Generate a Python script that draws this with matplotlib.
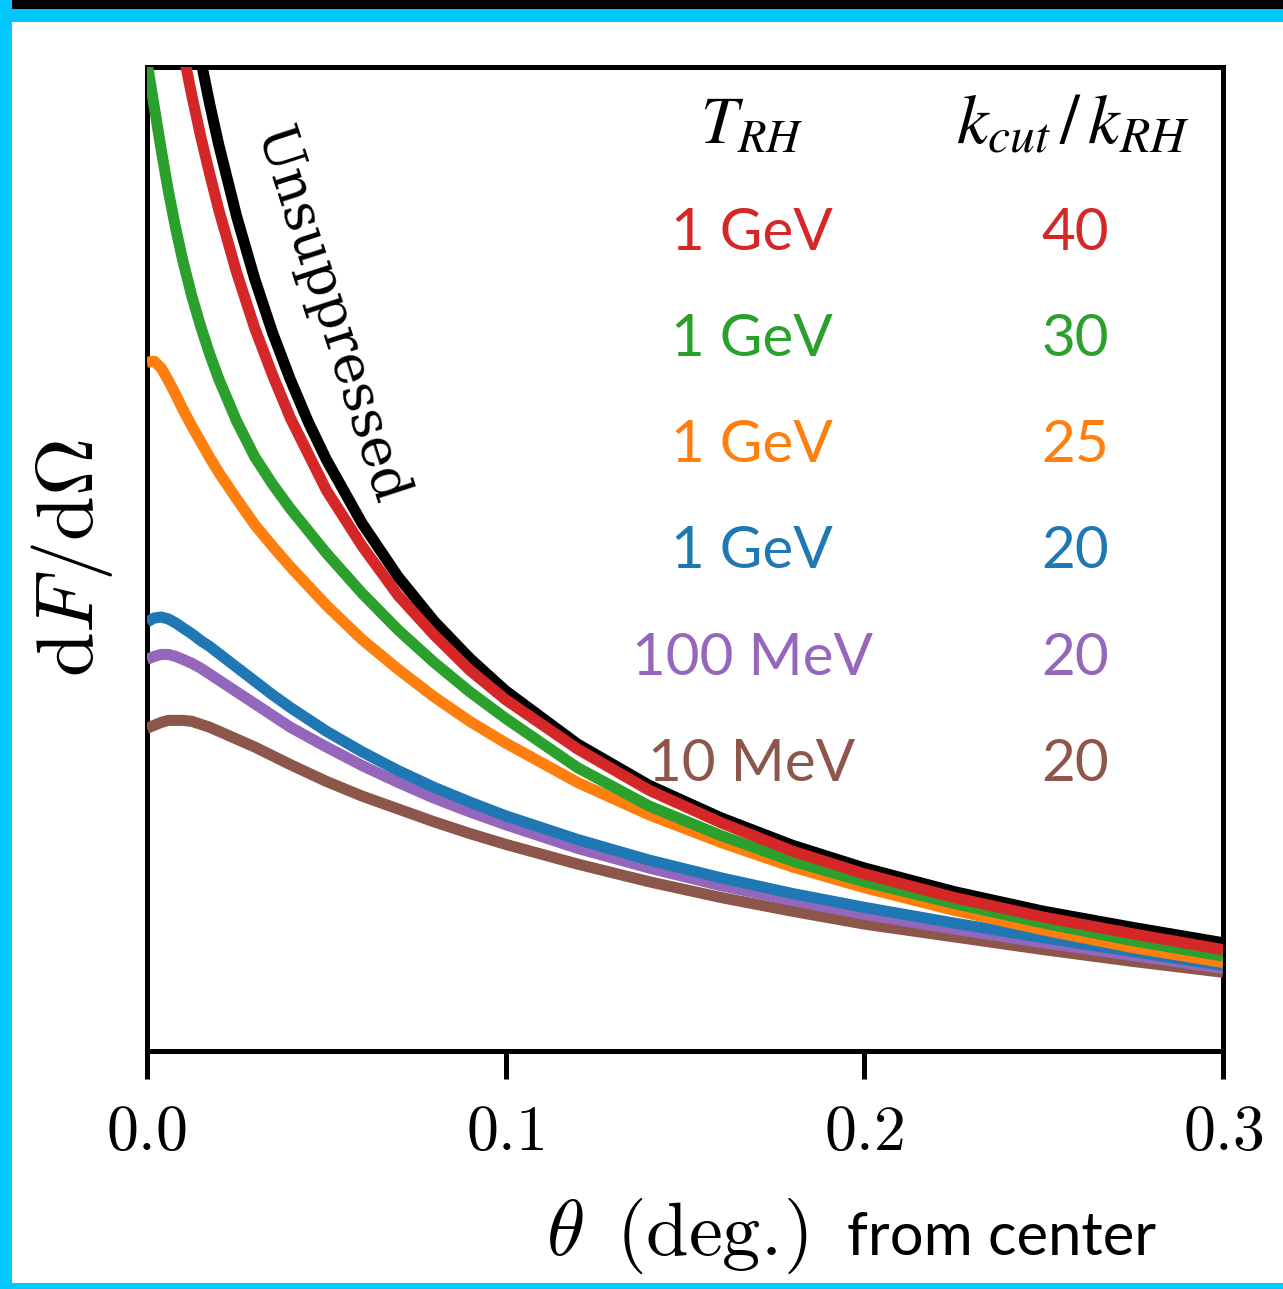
import matplotlib
matplotlib.use("Agg")
import matplotlib.pyplot as plt
from matplotlib.patches import Rectangle

# ---- data: dF/dOmega (arbitrary units) versus angle theta (deg.) ----
theta_unsup = [0.0135, 0.015, 0.0175, 0.02, 0.025, 0.03, 0.035, 0.04, 0.045, 0.05,
               0.06, 0.07, 0.08, 0.09, 0.1, 0.12, 0.14, 0.16, 0.18, 0.2,
               0.225, 0.25, 0.275, 0.3]
val_unsup = [1.035, 1.007, 0.962, 0.921, 0.848, 0.785, 0.730, 0.682, 0.639, 0.601,
             0.536, 0.482, 0.437, 0.399, 0.366, 0.312, 0.270, 0.237, 0.209, 0.186,
             0.162, 0.142, 0.1255, 0.110]

theta_red = [0.0095, 0.01, 0.0125, 0.015, 0.0175, 0.02, 0.025, 0.03, 0.035, 0.04,
             0.05, 0.06, 0.07, 0.08, 0.09, 0.1, 0.12, 0.14, 0.16, 0.18,
             0.2, 0.225, 0.25, 0.275, 0.3]
val_red = [1.04, 1.016, 0.971, 0.929, 0.891, 0.855, 0.791, 0.735, 0.687, 0.643,
           0.570, 0.513, 0.463, 0.423, 0.387, 0.357, 0.307, 0.265, 0.232, 0.203,
           0.180, 0.156, 0.136, 0.119, 0.103]

theta_grid = [0.0, 0.002, 0.004, 0.006, 0.008, 0.01, 0.0125, 0.015, 0.0175, 0.02,
              0.025, 0.03, 0.035, 0.04, 0.05, 0.06, 0.07, 0.08, 0.09, 0.1,
              0.12, 0.14, 0.16, 0.18, 0.2, 0.225, 0.25, 0.275, 0.3]
val_green = [1.005, 0.960, 0.915, 0.873, 0.836, 0.803, 0.767, 0.736, 0.708, 0.683,
             0.640, 0.604, 0.576, 0.551, 0.506, 0.465, 0.428, 0.395, 0.365, 0.338,
             0.288, 0.249, 0.219, 0.193, 0.172, 0.150, 0.130, 0.112, 0.0965]
val_orange = [0.700, 0.701, 0.694, 0.681, 0.667, 0.652, 0.635, 0.619, 0.603, 0.588,
              0.561, 0.535, 0.513, 0.492, 0.453, 0.418, 0.388, 0.360, 0.335, 0.313,
              0.273, 0.240, 0.212, 0.187, 0.166, 0.143, 0.123, 0.105, 0.090]
val_blue = [0.436, 0.440, 0.441, 0.439, 0.435, 0.430, 0.424, 0.417, 0.411, 0.404,
            0.390, 0.376, 0.362, 0.349, 0.325, 0.304, 0.285, 0.268, 0.253, 0.239,
            0.215, 0.194, 0.176, 0.160, 0.146, 0.130, 0.115, 0.101, 0.087]
val_purple = [0.398, 0.401, 0.403, 0.403, 0.401, 0.398, 0.394, 0.389, 0.383, 0.377,
              0.365, 0.353, 0.341, 0.329, 0.309, 0.290, 0.273, 0.257, 0.243, 0.230,
              0.206, 0.186, 0.168, 0.153, 0.139, 0.124, 0.110, 0.097, 0.084]
val_brown = [0.328, 0.331, 0.334, 0.336, 0.336, 0.336, 0.335, 0.332, 0.329, 0.325,
             0.317, 0.309, 0.300, 0.291, 0.274, 0.259, 0.246, 0.233, 0.221, 0.210,
             0.190, 0.172, 0.156, 0.142, 0.129, 0.116, 0.103, 0.091, 0.080]

t_rh_labels = ["1 GeV", "1 GeV", "1 GeV", "1 GeV", "100 MeV", "10 MeV"]
kcut_labels = ["40", "30", "25", "20", "20", "20"]
row_colors = ["#d62728", "#2ca02c", "#ff7f0e", "#1f77b4", "#9467bd", "#8c564b"]

xticks = [0.0, 0.1, 0.2, 0.3]
xtick_labels = ["$0.0$", "$0.1$", "$0.2$", "$0.3$"]

# ---- figure ----
W, H = 1283, 1289
fig = plt.figure(figsize=(W / 100, H / 100), dpi=100)
fig.patch.set_facecolor("white")

# outer frame
cyan = "#00c8ff"
fig.patches.append(Rectangle((0, (H - 9) / H), 1, 9 / H, transform=fig.transFigure,
                             facecolor="black", edgecolor="none", zorder=-1))
fig.patches.append(Rectangle((0, (H - 22) / H), 1, 13 / H, transform=fig.transFigure,
                             facecolor=cyan, edgecolor="none", zorder=-1))
fig.patches.append(Rectangle((0, 0), 12 / W, 1, transform=fig.transFigure,
                             facecolor=cyan, edgecolor="none", zorder=-1))
fig.patches.append(Rectangle((0, 0), 1, 6 / H, transform=fig.transFigure,
                             facecolor=cyan, edgecolor="none", zorder=-1))

ax = fig.add_axes([147 / W, 238 / H, 1076 / W, 984 / H])
ax.set_xlim(0, 0.3)
ax.set_ylim(0, 1)

lw = 8
style = dict(lw=lw, solid_capstyle="butt", solid_joinstyle="round")
ax.plot(theta_unsup, val_unsup, color="black", zorder=2, **style)
ax.plot(theta_grid, val_brown, color=row_colors[5], zorder=3, **style)
ax.plot(theta_grid, val_purple, color=row_colors[4], zorder=4, **style)
ax.plot(theta_grid, val_blue, color=row_colors[3], zorder=5, **style)
ax.plot(theta_grid, val_orange, color=row_colors[2], zorder=6, **style)
ax.plot(theta_grid, val_green, color=row_colors[1], zorder=7, **style)
ax.plot(theta_red, val_red, color=row_colors[0], zorder=8, **style)

for s in ax.spines.values():
    s.set_linewidth(3.6)
ax.set_yticks([])
ax.set_xticks(xticks)
ax.set_xticklabels(xtick_labels, fontsize=46, math_fontfamily="cm")
ax.tick_params(axis="x", direction="out", length=20, width=3.6, pad=16)

# y label
ax.text(72 / W, 1 - 558 / H, r"$\mathrm{d}F/\mathrm{d}\Omega$", transform=fig.transFigure,
        rotation=90, ha="center", va="center", fontsize=58, math_fontfamily="cm")

# x label: math part plus plain words
fig.text(546 / W, 34 / H, r"$\theta$", ha="left", va="baseline",
         fontsize=56, math_fontfamily="cm")
fig.text(616 / W, 34 / H, r"$\mathrm{(deg.\!)}$", ha="left", va="baseline",
         fontsize=55, math_fontfamily="cm")
fig.text(847 / W, 34 / H, "from center", ha="left", va="baseline",
         fontsize=43, family="Lato")

# curve annotation
ax.text((330 - 147) / 1076, (1051 - 316) / 984, "Unsuppressed", transform=ax.transAxes,
        rotation=-72, rotation_mode="anchor", ha="center", va="center",
        fontsize=39, family="DejaVu Serif", zorder=10)

# table of parameters
col1 = (752 - 147) / 1076
col2 = (1073 - 147) / 1076
ax.text(col1, (1051 - 143) / 984, r"$T_{RH}$", transform=ax.transAxes, ha="center",
        va="baseline", fontsize=48, math_fontfamily="stix")
ax.text(col2, (1051 - 143) / 984, r"$k_{cut}\,/\,k_{RH}$", transform=ax.transAxes,
        ha="center", va="baseline", fontsize=51, math_fontfamily="stix")
baselines = [250, 356, 462, 568, 675, 781]
for lab1, lab2, c, b in zip(t_rh_labels, kcut_labels, row_colors, baselines):
    yb = (1051 - b) / 984
    ax.text(col1, yb, lab1, transform=ax.transAxes, ha="center", va="baseline",
            fontsize=42, family="Lato", color=c)
    ax.text((1075 - 147) / 1076, yb, lab2, transform=ax.transAxes, ha="center",
            va="baseline", fontsize=42, family="Lato", color=c)

fig.savefig("out.png", dpi=100)
